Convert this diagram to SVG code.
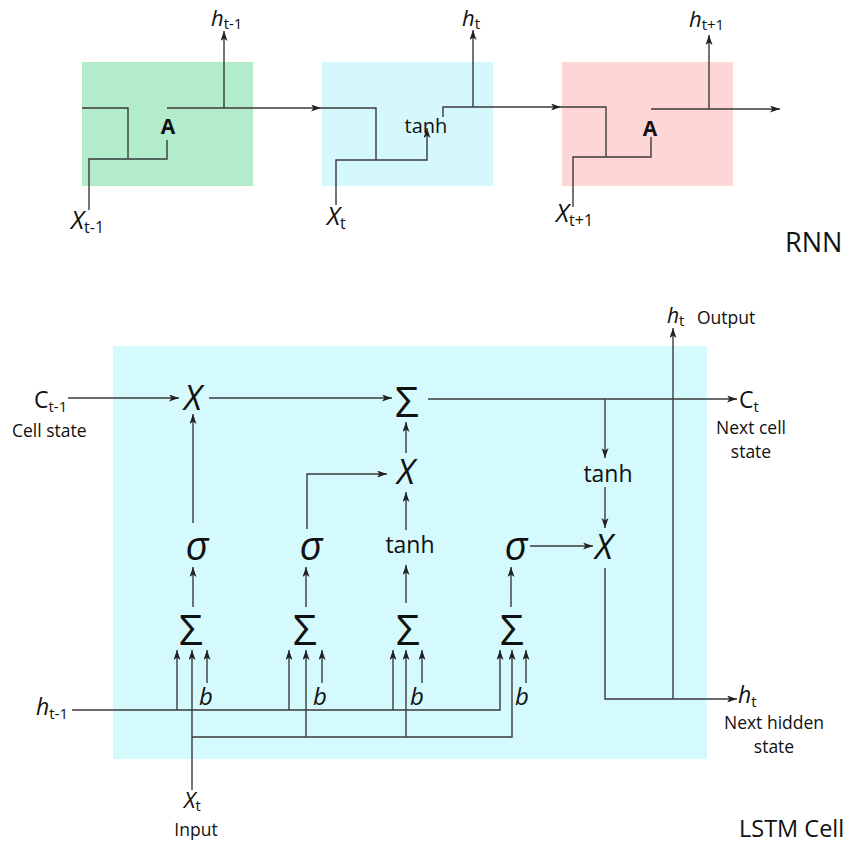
<svg xmlns="http://www.w3.org/2000/svg" width="844" height="843" viewBox="0 0 844 843">
<style>
text{font-family:"Open Sans","Noto Sans","DejaVu Sans",sans-serif;fill:#111}
.ln{fill:none;stroke:#3a3a3a;stroke-width:1.4}
.ar{marker-end:url(#ah)}
.it{font-style:italic}
.sub{font-style:normal}
.mid{text-anchor:middle}
.lab{font-size:17.5px}
.sym{font-size:34px;font-style:italic}
.sig{font-size:40px;font-style:italic}
.sum{font-size:42px}
.b{font-size:24px;font-style:italic}
.tanh{font-size:23px}
</style>
<defs>
<marker id="ah" markerUnits="userSpaceOnUse" markerWidth="11" markerHeight="8" refX="10" refY="3.5" orient="auto">
<path d="M0,0 L10,3.5 L0,7 L2.5,3.5 z" fill="#222"/>
</marker>
</defs>

<!-- RNN cells -->
<g id="rnn-cell-1">
<rect x="82" y="62" width="171" height="124" fill="#b3ecca"/>
<text x="168" y="134" class="mid" font-size="21" font-weight="bold">A</text>
</g>
<g id="rnn-cell-2">
<rect x="322" y="62" width="171" height="124" fill="#d4f8fc"/>
<text x="426" y="133" class="mid" font-size="20">tanh</text>
</g>
<g id="rnn-cell-3">
<rect x="562" y="62" width="171" height="124" fill="#ffd6d6"/>
<text x="650" y="136" class="mid" font-size="21" font-weight="bold">A</text>
</g>
<g id="rnn-labels">
<text x="211" y="26" class="it" font-size="22">h<tspan class="sub" font-size="15" dy="3">t-1</tspan></text>
<text x="462" y="26" class="it" font-size="22">h<tspan class="sub" font-size="15" dy="3">t</tspan></text>
<text x="689" y="27" class="it" font-size="22">h<tspan class="sub" font-size="15" dy="3">t+1</tspan></text>
<text x="71" y="229" class="it" font-size="25">X<tspan class="sub" font-size="16" dy="4">t-1</tspan></text>
<text x="327" y="225" class="it" font-size="25">X<tspan class="sub" font-size="16" dy="4">t</tspan></text>
<text x="556" y="222" class="it" font-size="25">X<tspan class="sub" font-size="16" dy="4">t+1</tspan></text>
<text x="785" y="252" font-size="27">RNN</text>
</g>

<!-- LSTM cell -->
<g id="lstm-cell">
<rect x="113" y="346" width="594" height="413" fill="#d4fafd"/>
</g>
<g id="lstm-ops">
<text x="193" y="410" class="mid sym">X</text>
<text x="407" y="417" class="mid sum">Σ</text>
<text x="406" y="484" class="mid sym">X</text>
<text x="608" y="482" class="mid tanh">tanh</text>
<text x="604" y="559" class="mid sym">X</text>
<text x="197" y="560" class="mid sig">σ</text>
<text x="311" y="560" class="mid sig">σ</text>
<text x="410" y="553" class="mid tanh">tanh</text>
<text x="516" y="560" class="mid sig">σ</text>
<text x="191" y="645" class="mid sum">Σ</text>
<text x="305" y="645" class="mid sum">Σ</text>
<text x="408" y="645" class="mid sum">Σ</text>
<text x="512" y="645" class="mid sum">Σ</text>
<text x="206" y="705" class="mid b">b</text>
<text x="320" y="705" class="mid b">b</text>
<text x="417" y="705" class="mid b">b</text>
<text x="522" y="705" class="mid b">b</text>
</g>
<g id="lstm-labels">
<text x="34" y="408" font-size="23">C<tspan font-size="15" dy="4">t-1</tspan></text>
<text x="12" y="437" class="lab">Cell state</text>
<text x="36" y="715" class="it" font-size="23">h<tspan class="sub" font-size="15" dy="4">t-1</tspan></text>
<text x="184" y="808" class="it" font-size="22">X<tspan class="sub" font-size="15" dy="3">t</tspan></text>
<text x="196" y="836" class="mid lab">Input</text>
<text x="667" y="323" class="it" font-size="21">h<tspan class="sub" font-size="15" dy="3">t</tspan></text>
<text x="697" y="324" class="lab">Output</text>
<text x="739" y="408" font-size="23">C<tspan font-size="15" dy="4">t</tspan></text>
<text x="751" y="434" class="mid lab">Next cell</text>
<text x="751" y="458" class="mid lab">state</text>
<text x="738" y="703" class="it" font-size="23">h<tspan class="sub" font-size="15" dy="4">t</tspan></text>
<text x="774" y="729" class="mid lab">Next hidden</text>
<text x="774" y="753" class="mid lab">state</text>
<text x="739" y="837" font-size="23.5">LSTM Cell</text>
</g>

<g id="connectors">
<!-- RNN -->
<path class="ln" d="M82,108 H128 V159"/>
<path class="ln" d="M89,210 V159 H167 V140"/>
<path class="ln ar" d="M167,108 H321"/>
<path class="ln ar" d="M224,108 V31"/>
<path class="ln" d="M321,108 H376 V160"/>
<path class="ln ar" d="M336,205 V160 H427 V128"/>
<path class="ln ar" d="M443,117 V107 H561"/>
<path class="ln ar" d="M473,107 V30"/>
<path class="ln" d="M561,107 H606 V157"/>
<path class="ln" d="M573,207 V157 H651 V137"/>
<path class="ln ar" d="M651,109 H780"/>
<path class="ln ar" d="M709,109 V35"/>
<!-- LSTM top -->
<path class="ln ar" d="M68,398 H179"/>
<path class="ln ar" d="M209,398 H392"/>
<path class="ln ar" d="M428,399 H737"/>
<path class="ln ar" d="M605,399 V458"/>
<path class="ln ar" d="M605,487 V528"/>
<path class="ln ar" d="M193,523 V414"/>
<path class="ln ar" d="M406,453 V422"/>
<path class="ln ar" d="M406,530 V492"/>
<path class="ln ar" d="M307,529 V474 H387"/>
<path class="ln ar" d="M530,546 H593"/>
<path class="ln ar" d="M605,568 V699 H737"/>
<path class="ln ar" d="M673,699 V328"/>
<!-- sums to gates -->
<path class="ln ar" d="M193,607 V567"/>
<path class="ln ar" d="M306,607 V567"/>
<path class="ln ar" d="M406,603 V565"/>
<path class="ln ar" d="M511,607 V567"/>
<!-- h(t-1) bus -->
<path class="ln ar" d="M72,710 H500 V650"/>
<path class="ln ar" d="M177,710 V650"/>
<path class="ln ar" d="M289,710 V650"/>
<path class="ln ar" d="M393,710 V650"/>
<!-- x(t) bus -->
<path class="ln ar" d="M192,790 V650"/>
<path class="ln ar" d="M192,737 H512 V650"/>
<path class="ln ar" d="M306,737 V650"/>
<path class="ln ar" d="M406,737 V650"/>
<!-- bias -->
<path class="ln ar" d="M207,683 V650"/>
<path class="ln ar" d="M322,683 V650"/>
<path class="ln ar" d="M422,683 V650"/>
<path class="ln ar" d="M526,683 V650"/>
</g>
</svg>
